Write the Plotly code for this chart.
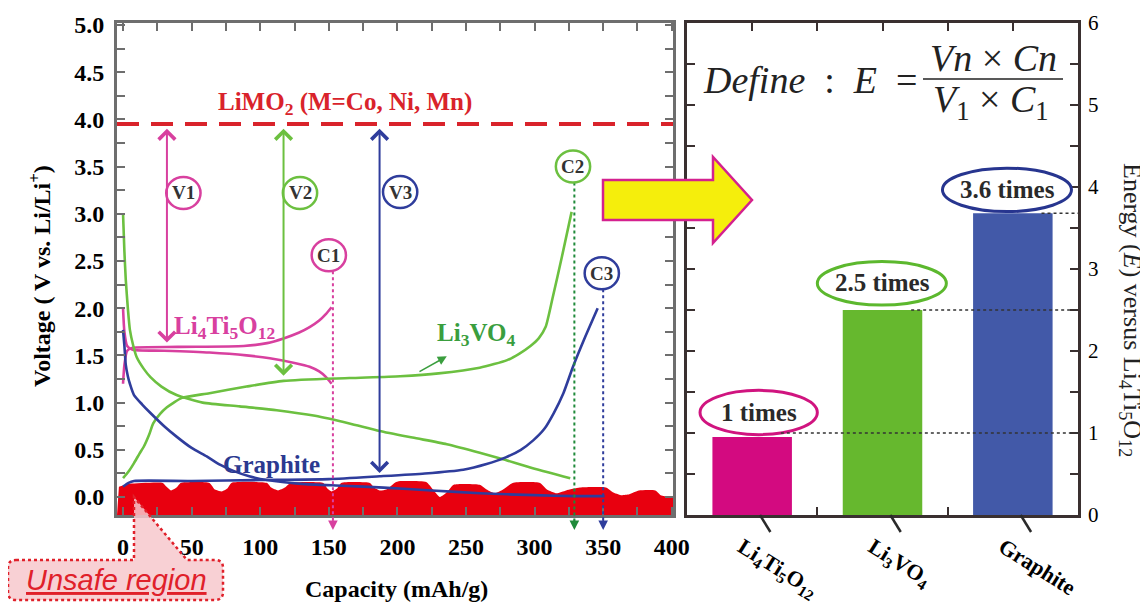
import plotly.graph_objects as go

# page body has an 8px margin: figure is drawn at screen offset (8, 8)
SCREEN_W, SCREEN_H = 1148, 605
SX, SY = 8, 8
W, H = SCREEN_W - SX, SCREEN_H - SY

# ---------------- data: left panel (capacity mAh/g, voltage V vs Li/Li+) ----------------
lto_dis_cap = [0, 1, 3, 7, 30, 63, 90, 107, 125, 136, 143, 148, 152]
lto_dis_v = [2.0, 1.75, 1.6, 1.56, 1.55, 1.53, 1.5, 1.47, 1.42, 1.38, 1.33, 1.27, 1.2]
lto_chg_cap = [0, 1, 3, 7, 40, 88, 105, 117, 128, 136, 143, 148, 152]
lto_chg_v = [1.2, 1.4, 1.55, 1.58, 1.59, 1.6, 1.63, 1.68, 1.74, 1.8, 1.87, 1.94, 2.01]

lvo_dis_cap = [0, 1, 2, 3.5, 5, 7.5, 10, 15, 20, 28, 39, 58, 85, 112, 140, 165, 187, 211, 236, 260, 277, 300, 326]
lvo_dis_v = [3.0, 2.6, 2.3, 2.0, 1.77, 1.6, 1.48, 1.36, 1.27, 1.17, 1.08, 1.0, 0.96, 0.92, 0.86, 0.78, 0.7, 0.63, 0.56, 0.47, 0.4, 0.3, 0.2]
lvo_chg_cap = [0, 4, 8, 12, 15, 19, 22, 27, 32, 37, 43, 63, 90, 117, 165, 202, 230, 260, 280, 289, 297, 303, 308, 313, 320, 327]
lvo_chg_v = [0.2, 0.27, 0.36, 0.46, 0.53, 0.66, 0.78, 0.88, 0.95, 1.0, 1.05, 1.1, 1.17, 1.23, 1.26, 1.28, 1.31, 1.37, 1.45, 1.52, 1.6, 1.68, 1.8, 2.1, 2.55, 3.02]

gr_dis_cap = [0, 1, 2, 3.5, 5, 8, 14, 20, 30, 39, 50, 61, 71, 80, 92, 105, 130, 160, 190, 225, 260, 300, 330, 351]
gr_dis_v = [1.77, 1.6, 1.4, 1.28, 1.2, 1.08, 0.98, 0.89, 0.75, 0.64, 0.52, 0.43, 0.34, 0.28, 0.22, 0.18, 0.14, 0.12, 0.1, 0.07, 0.04, 0.02, 0.01, 0.01]
gr_chg_cap = [0, 4, 8, 50, 100, 150, 187, 220, 248, 265, 279, 290, 299, 307, 314, 321, 328, 337, 346]
gr_chg_v = [0.11, 0.15, 0.17, 0.17, 0.18, 0.19, 0.22, 0.25, 0.29, 0.35, 0.42, 0.5, 0.6, 0.72, 0.89, 1.1, 1.38, 1.7, 2.0]

limo2_v = 3.95

unsafe_cap = [-3, 5, 29, 31, 35, 39, 42, 63, 67, 72, 76, 79, 105, 108, 113, 118, 122, 146, 149, 152, 156, 159,
              180, 183, 187, 192, 199, 203, 221, 226, 231, 236, 241, 260, 265, 271, 277, 284, 304, 309, 316, 323,
              333, 352, 357, 363, 369, 376, 388, 392, 398, 401]
unsafe_top = [0.11, 0.14, 0.15, 0.12, 0.07, 0.1, 0.15, 0.15, 0.08, 0.06, 0.09, 0.15, 0.15, 0.1, 0.07, 0.1, 0.15,
              0.15, 0.09, 0.06, 0.09, 0.15, 0.15, 0.1, 0.07, 0.08, 0.16, 0.17, 0.16, 0.08, 0.0, 0.05, 0.13, 0.13,
              0.08, 0.04, 0.08, 0.15, 0.15, 0.08, 0.04, 0.07, 0.1, 0.1, 0.05, 0.02, 0.03, 0.07, 0.07, 0.02, 0.0, 0.0]

# marker positions (capacity, voltage)
v_arrow_cap = [32, 117, 187]
v_arrow_low = [1.62, 1.27, 0.24]
v_label_pos = [(44, 3.22), (129, 3.22), (202, 3.23)]
c_line_cap = [153, 329, 350]
c_label_pos = [(150, 2.56), (328, 3.5), (349, 2.37)]

# ---------------- data: right panel ----------------
materials = ["Li<sub>4</sub>Ti<sub>5</sub>O<sub>12</sub>", "Li<sub>3</sub>VO<sub>4</sub>", "Graphite"]
energy = [0.95, 2.5, 3.68]
ref_levels = [1.0, 2.5, 3.68]
times_labels = ["1 times", "2.5 times", "3.6 times"]
times_pos = [(0.05, 1.25), (1.0, 2.83), (1.96, 3.97)]
times_ell = [(-0.40, 0.50, 0.98, 1.52), (0.50, 1.49, 2.56, 3.09), (1.46, 2.45, 3.70, 4.23)]
right_ticks = [0, 1, 2, 3, 4, 5, 6]

# ---------------- style ----------------
MAG = "#d8409f"
GRN = "#6cc040"
BLU = "#2f3d9c"
RED = "#d9232b"
BAR_COLORS = ["#d30a80", "#66b82e", "#4259a8"]
ELL_COLORS = ["#d0147f", "#5cb82e", "#27358f"]
SERIF = "Liberation Serif"


def pp(xpx, ypx):
    """screen pixel -> paper fraction"""
    return (xpx - SX) / W, 1 - (ypx - SY) / H


XR = [-4.4, 400.9]
YR = [-0.19, 5.02]
XD_L = [pp(117, 0)[0], pp(673, 0)[0]]
XD_R = [pp(687, 0)[0], pp(1078, 0)[0]]
YD = [pp(0, 515)[1], pp(0, 23)[1]]


def vy(v):
    return YD[0] + (v - YR[0]) / (YR[1] - YR[0]) * (YD[1] - YD[0])


def P(a, b):
    u, v = pp(a, b)
    return "%.5f,%.5f" % (u, v)


def paper_text(xpx, ypx, text, size, color="black", family=SERIF, angle=0, xanchor="center"):
    x, y = pp(xpx, ypx)
    return dict(x=x, y=y, xref="paper", yref="paper", xanchor=xanchor, yanchor="middle",
                text=text, textangle=angle, showarrow=False,
                font=dict(family=family, size=size, color=color))


fig = go.Figure()

# unsafe region (red blob)
fig.add_trace(go.Scatter(x=[XR[0], XR[1]], y=[YR[0], YR[0]], mode="lines",
                         line=dict(width=0, color=RED), showlegend=False, hoverinfo="skip"))
fig.add_trace(go.Scatter(x=unsafe_cap, y=unsafe_top, mode="lines", fill="tonexty",
                         fillcolor="#e8000f", line=dict(width=0, color="#e8000f"),
                         line_shape="spline", line_smoothing=0.5, showlegend=False, hoverinfo="skip"))

# LiMO2 line
fig.add_trace(go.Scatter(x=XR, y=[limo2_v, limo2_v], mode="lines",
                         line=dict(color=RED, width=4, dash="22px,12px"), showlegend=False))

curves = [
    (lto_dis_cap, lto_dis_v, MAG), (lto_chg_cap, lto_chg_v, MAG),
    (lvo_dis_cap, lvo_dis_v, GRN), (lvo_chg_cap, lvo_chg_v, GRN),
    (gr_dis_cap, gr_dis_v, BLU), (gr_chg_cap, gr_chg_v, BLU),
]
for cx, cy, col in curves:
    fig.add_trace(go.Scatter(x=cx, y=cy, mode="lines", line=dict(color=col, width=2.6),
                             line_shape="spline", line_smoothing=0.6, showlegend=False))

# bars
fig.add_trace(go.Bar(x=[0, 1, 2], y=energy, marker=dict(color=BAR_COLORS, line=dict(width=0)),
                     width=0.61, xaxis="x2", yaxis="y2", showlegend=False))

shapes = []
ann = []

# V arrows and labels
vcols = [MAG, GRN, BLU]
for i in range(3):
    ann.append(dict(x=v_arrow_cap[i], y=3.9, ax=v_arrow_cap[i], ay=v_arrow_low[i],
                    xref="x", yref="y", axref="x", ayref="y", text="", showarrow=True,
                    arrowside="end+start", arrowhead=4, startarrowhead=4, arrowsize=1.6,
                    startarrowsize=1.6, arrowwidth=2, arrowcolor=vcols[i], standoff=0, startstandoff=0))
    lx, ly = v_label_pos[i]
    shapes.append(dict(type="circle", xref="x", yref="y", x0=lx - 12.5, x1=lx + 12.5,
                       y0=ly - 0.17, y1=ly + 0.17, line=dict(color=vcols[i], width=2.5),
                       fillcolor="white", layer="above"))
    ann.append(dict(x=lx, y=ly, xref="x", yref="y", text="<b>V%d</b>" % (i + 1), showarrow=False,
                    font=dict(family=SERIF, size=19, color="#333333")))

# C lines and labels
ccols = [MAG, "#1f8a3a", BLU]
ccircle = [MAG, GRN, BLU]
for i in range(3):
    lx, ly = c_label_pos[i]
    shapes.append(dict(type="line", xref="x", yref="paper", x0=c_line_cap[i], x1=c_line_cap[i],
                       y0=vy(ly - 0.17), y1=pp(0, 526)[1], line=dict(color=ccols[i], width=2, dash="dot"),
                       layer="above"))
    ann.append(dict(x=c_line_cap[i], y=pp(0, 530)[1], xref="x", yref="paper", ax=0, ay=-12,
                    text="", showarrow=True, arrowhead=2, arrowsize=1.2, arrowwidth=1.6,
                    arrowcolor=ccols[i], standoff=0))
    shapes.append(dict(type="circle", xref="x", yref="y", x0=lx - 12.5, x1=lx + 12.5,
                       y0=ly - 0.17, y1=ly + 0.17, line=dict(color=ccircle[i], width=2.5),
                       fillcolor="white", layer="above"))
    ann.append(dict(x=lx, y=ly, xref="x", yref="y", text="<b>C%d</b>" % (i + 1), showarrow=False,
                    font=dict(family=SERIF, size=19, color="#333333")))

# curve labels
ann += [
    dict(x=162, y=4.17, xref="x", yref="y", text="<b>LiMO<sub>2</sub> (M=Co, Ni, Mn)</b>", showarrow=False,
         font=dict(family=SERIF, size=25, color=RED)),
    dict(x=74, y=1.8, xref="x", yref="y", text="<b>Li<sub>4</sub>Ti<sub>5</sub>O<sub>12</sub></b>",
         showarrow=False, font=dict(family=SERIF, size=25, color=MAG)),
    dict(x=257, y=1.72, xref="x", yref="y", text="<b>Li<sub>3</sub>VO<sub>4</sub></b>",
         showarrow=False, font=dict(family=SERIF, size=25, color="#3a9e3e")),
    dict(x=108, y=0.34, xref="x", yref="y", text="<b>Graphite</b>",
         showarrow=False, font=dict(family=SERIF, size=25, color="#2b3990")),
    dict(x=236, y=1.49, ax=215, ay=1.32, xref="x", yref="y", axref="x", ayref="y", text="",
         showarrow=True, arrowhead=2, arrowsize=1.2, arrowwidth=1.5, arrowcolor="#3a9e3e", standoff=0),
]

# axis titles (left)
ann.append(paper_text(40, 276, "<b>Voltage ( V vs. Li/Li<sup>+</sup>)</b>", 24, angle=-90))
ann.append(paper_text(396, 589, "<b>Capacity (mAh/g)</b>", 24))

# unsafe region callout
path = ("M " + P(16, 560) + " L " + P(134, 560) + " L " + P(134, 497) + " L " + P(187, 560) +
        " L " + P(215, 560) + " Q " + P(223, 560) + " " + P(223, 568) + " L " + P(223, 592) +
        " Q " + P(223, 600) + " " + P(215, 600) + " L " + P(16, 600) + " Q " + P(8, 600) + " " +
        P(8, 592) + " L " + P(8, 568) + " Q " + P(8, 560) + " " + P(16, 560) + " Z")
shapes.append(dict(type="path", xref="paper", yref="paper", path=path,
                   fillcolor="rgba(247,200,205,0.85)", line=dict(color="#e0202a", width=2.5, dash="dot"),
                   layer="above"))
ann.append(paper_text(116, 580, "<i><u>Unsafe region</u></i>", 29, color="#e0202a", family="Liberation Sans"))

# big yellow arrow
arrow_pts = [(603, 180), (713, 180), (713, 157), (752, 200), (713, 243), (713, 220), (603, 220)]
path = "M " + " L ".join(P(a, b) for a, b in arrow_pts) + " Z"
shapes.append(dict(type="path", xref="paper", yref="paper", path=path, fillcolor="#f5ee0c",
                   line=dict(color="#d4218f", width=2.5), layer="above"))

# right panel decorations
for i in range(3):
    x0, x1, y0, y1 = times_ell[i]
    shapes.append(dict(type="circle", xref="x2", yref="y2", x0=x0, x1=x1, y0=y0, y1=y1,
                       line=dict(color=ELL_COLORS[i], width=3), fillcolor="rgba(0,0,0,0)", layer="above"))
    tx, ty = times_pos[i]
    ann.append(dict(x=tx, y=ty, xref="x2", yref="y2", text="<b>%s</b>" % times_labels[i], showarrow=False,
                    font=dict(family=SERIF, size=25, color="#2a2a2a")))
    shapes.append(dict(type="line", xref="x2", yref="y2", x0=i + 0.22, x1=2.5, y0=ref_levels[i],
                       y1=ref_levels[i], line=dict(color="#333333", width=1.6, dash="dot"), layer="above"))
    shapes.append(dict(type="line", xref="x2", yref="paper", x0=i + 0.06, x1=i + 0.14,
                       y0=pp(0, 515)[1], y1=pp(0, 532)[1], line=dict(color="#2a2a2a", width=2.5)))

ann.append(paper_text(1131, 310, "Energy (<i>E</i>) versus Li<sub>4</sub>Ti<sub>5</sub>O<sub>12</sub>",
                      26, color="#222222", angle=90))

# formula
ann.append(paper_text(920, 80, "<i>Define</i>&nbsp;&nbsp;:&nbsp;&nbsp;<i>E</i>&nbsp;&nbsp;=", 38,
                      color="#222222", xanchor="right"))
ann.append(paper_text(993, 58, "<i>Vn</i>&nbsp;×&nbsp;<i>Cn</i>", 38, color="#222222"))
ann.append(paper_text(991, 102, "<i>V</i><sub>1</sub>&nbsp;×&nbsp;<i>C</i><sub>1</sub>", 38, color="#222222"))
a0 = pp(923, 79)
a1 = pp(1063, 79)
shapes.append(dict(type="line", xref="paper", yref="paper", x0=a0[0], x1=a1[0], y0=a0[1], y1=a1[1],
                   line=dict(color="#222222", width=1.5)))

LGRAY = "#6e6e6e"
DARK = "#3a3030"

fig.update_layout(
    width=W, height=H, margin=dict(l=0, r=0, t=0, b=0, autoexpand=False),
    paper_bgcolor="white", plot_bgcolor="white", showlegend=False,
    font=dict(family=SERIF, color="black"),
    xaxis=dict(domain=XD_L, range=XR, anchor="y", showgrid=False, zeroline=False, automargin=False,
               showline=True, mirror="ticks", linecolor=LGRAY, linewidth=3,
               ticks="inside", ticklen=8, tickwidth=2, tickcolor=LGRAY,
               tickmode="linear", tick0=0, dtick=50,
               minor=dict(ticks="inside", dtick=25, ticklen=8, tickwidth=2, tickcolor=LGRAY),
               tickfont=dict(family=SERIF, size=24, weight="bold", color="black"),
               ticklabelstandoff=8),
    yaxis=dict(domain=YD, range=YR, anchor="x", showgrid=False, zeroline=False, automargin=False,
               showline=True, mirror="ticks", linecolor=LGRAY, linewidth=3,
               ticks="inside", ticklen=8, tickwidth=2, tickcolor=LGRAY,
               tickmode="linear", tick0=0, dtick=0.5, tickformat=".1f",
               minor=dict(ticks="inside", dtick=0.25, ticklen=8, tickwidth=2, tickcolor=LGRAY),
               tickfont=dict(family=SERIF, size=24, weight="bold", color="black"),
               ticklabelstandoff=5),
    xaxis2=dict(domain=XD_R, range=[-0.5, 2.5], anchor="y2", showgrid=False, zeroline=False,
                automargin=False, showline=True, mirror="ticks", linecolor=DARK, linewidth=2.5,
                tickmode="array", tickvals=[0, 1, 2], ticktext=["<b>%s</b>" % m for m in materials],
                ticks="inside", ticklen=8, tickwidth=2, tickcolor=DARK, tickangle=32,
                minor=dict(ticks="inside", tickmode="array", tickvals=[0.5, 1.5], ticklen=8,
                           tickwidth=2, tickcolor=DARK),
                tickfont=dict(family=SERIF, size=22, color="black"), layer="below traces",
                ticklabelstandoff=8, ticklabelshift=-10),
    yaxis2=dict(domain=YD, range=[0, 6], anchor="x2", side="right", showgrid=False, zeroline=False,
                automargin=False, showline=True, mirror="ticks", linecolor=DARK, linewidth=2.5,
                tickmode="array", tickvals=right_ticks,
                ticks="inside", ticklen=8, tickwidth=2, tickcolor=DARK,
                minor=dict(ticks="inside", dtick=0.5, ticklen=8, tickwidth=2, tickcolor=DARK),
                tickfont=dict(family=SERIF, size=21, color="black"), ticklabelstandoff=3,
                layer="below traces"),
    shapes=shapes, annotations=ann,
)

fig.write_html("out.html")
